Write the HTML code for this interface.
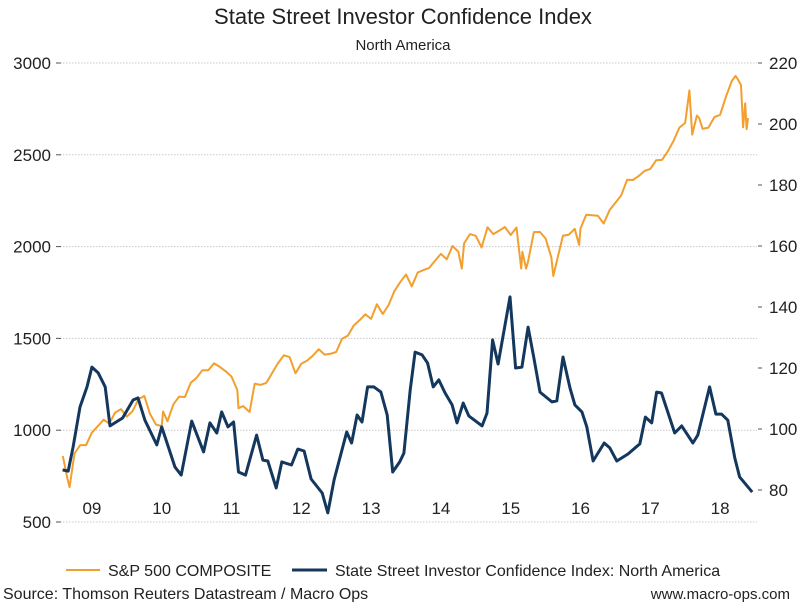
<!DOCTYPE html>
<html><head><meta charset="utf-8">
<style>
html,body{margin:0;padding:0;background:#fff;}
svg{display:block;font-family:"Liberation Sans",Arial,sans-serif;}
</style></head>
<body>
<svg id="chart" width="807" height="602" viewBox="0 0 807 602">
<text x="403" y="24" text-anchor="middle" font-size="22" fill="#222">State Street Investor Confidence Index</text>
<text x="403" y="50" text-anchor="middle" font-size="15" fill="#222">North America</text>
<g id="grid"></g>
<g id="axes"></g>
<g id="series"></g>
<g>
<line x1="66" y1="570" x2="100" y2="570" stroke="#f29f2f" stroke-width="2"/>
<text x="108" y="576" font-size="16" fill="#222">S&amp;P 500 COMPOSITE</text>
<line x1="292" y1="570" x2="327" y2="570" stroke="#14375e" stroke-width="3"/>
<text x="335" y="576" font-size="16" fill="#222">State Street Investor Confidence Index: North America</text>
</g>
<text x="3" y="599" font-size="16" fill="#222">Source: Thomson Reuters Datastream / Macro Ops</text>
<text x="790" y="599" text-anchor="end" font-size="15" fill="#222">www.macro-ops.com</text>
</svg>
<script>
const xTickLabels = ["09","10","11","12","13","14","15","16","17","18"];
const xTickYears = [2009.5,2010.5,2011.5,2012.5,2013.5,2014.5,2015.5,2016.5,2017.5,2018.5];
const leftTicks = [500,1000,1500,2000,2500,3000];
const rightTicks = [80,100,120,140,160,180,200,220];

const spDates = [2009.083,2009.15,2009.18,2009.25,2009.333,2009.417,2009.5,2009.583,2009.667,2009.75,2009.833,2009.917,2010.0,2010.083,2010.167,2010.25,2010.333,2010.417,2010.5,2010.52,2010.583,2010.667,2010.75,2010.833,2010.917,2011.0,2011.083,2011.167,2011.25,2011.333,2011.417,2011.5,2011.583,2011.6,2011.667,2011.76,2011.833,2011.917,2012.0,2012.083,2012.167,2012.25,2012.333,2012.417,2012.5,2012.583,2012.667,2012.75,2012.833,2012.917,2013.0,2013.083,2013.167,2013.25,2013.333,2013.417,2013.5,2013.583,2013.667,2013.75,2013.833,2013.917,2014.0,2014.083,2014.167,2014.25,2014.333,2014.417,2014.5,2014.583,2014.667,2014.75,2014.8,2014.833,2014.917,2015.0,2015.083,2015.167,2015.25,2015.333,2015.417,2015.5,2015.583,2015.65,2015.667,2015.72,2015.75,2015.833,2015.917,2016.0,2016.083,2016.11,2016.167,2016.25,2016.333,2016.417,2016.48,2016.5,2016.583,2016.667,2016.75,2016.833,2016.917,2017.0,2017.083,2017.167,2017.25,2017.333,2017.417,2017.5,2017.583,2017.667,2017.75,2017.833,2017.917,2018.0,2018.06,2018.1,2018.167,2018.2,2018.25,2018.333,2018.417,2018.5,2018.583,2018.667,2018.72,2018.75,2018.8,2018.83,2018.86,2018.88,2018.9];
const spValues = [860,735,690,873,919,919,987,1021,1057,1036,1096,1115,1074,1104,1169,1187,1089,1031,1022,1102,1049,1141,1183,1181,1258,1286,1327,1326,1364,1345,1321,1292,1219,1120,1131,1099,1253,1247,1258,1312,1366,1408,1398,1310,1362,1379,1407,1441,1412,1416,1426,1498,1515,1569,1598,1631,1606,1686,1633,1682,1757,1806,1848,1783,1859,1872,1884,1924,1960,1931,2003,1972,1880,2018,2068,2059,1995,2105,2068,2086,2107,2063,2104,1880,1972,1880,1920,2079,2080,2044,1940,1840,1932,2060,2065,2097,2010,2099,2174,2171,2168,2126,2199,2239,2279,2364,2363,2384,2412,2423,2470,2472,2519,2575,2648,2674,2850,2610,2714,2700,2641,2648,2705,2718,2816,2902,2930,2914,2880,2650,2780,2640,2700];

const icDates = [2009.08,2009.16,2009.23,2009.33,2009.43,2009.5,2009.59,2009.69,2009.76,2009.94,2010.09,2010.16,2010.26,2010.43,2010.5,2010.69,2010.78,2010.93,2011.1,2011.19,2011.29,2011.36,2011.45,2011.53,2011.6,2011.7,2011.86,2011.95,2012.02,2012.14,2012.22,2012.36,2012.45,2012.54,2012.64,2012.8,2012.88,2012.97,2013.15,2013.22,2013.3,2013.37,2013.45,2013.54,2013.64,2013.73,2013.81,2013.91,2013.97,2014.06,2014.13,2014.23,2014.31,2014.39,2014.47,2014.56,2014.66,2014.73,2014.82,2014.9,2015.09,2015.16,2015.24,2015.32,2015.49,2015.57,2015.66,2015.75,2015.83,2015.92,2016.09,2016.16,2016.25,2016.35,2016.42,2016.52,2016.59,2016.68,2016.84,2016.92,2017.02,2017.18,2017.35,2017.43,2017.52,2017.59,2017.66,2017.85,2017.95,2018.11,2018.18,2018.35,2018.44,2018.52,2018.61,2018.71,2018.78,2018.96];
const icValues = [86.6,86.2,94.1,107.2,113.8,120.3,118.4,113.8,101.0,103.6,109.5,110.2,102.9,94.8,100.7,87.5,84.9,102.6,92.5,102.0,98.7,105.6,100.7,102.3,85.9,84.9,98.0,89.8,89.5,80.7,89.2,88.2,93.4,92.8,83.6,79.0,72.5,83.3,99.0,95.4,104.6,102.3,113.8,113.8,112.1,104.6,85.9,89.2,92.1,112.8,125.2,124.3,121.6,113.8,116.1,111.8,107.9,102.0,108.5,104.3,101.0,105.2,129.2,121.3,143.3,120.0,120.3,133.4,123.6,112.1,108.9,109.2,123.6,113.4,107.9,105.6,100.7,89.5,95.4,93.8,89.5,91.8,95.1,103.9,102.0,112.1,111.8,98.7,101.0,95.4,98.0,113.8,104.9,104.9,102.9,90.5,84.3,79.3];

const NS="http://www.w3.org/2000/svg";
const X0=57, PX_PER_YEAR=69.8, PLOT_L=60, PLOT_R=757;
function xScale(t){return X0+(t-2009)*PX_PER_YEAR;}
function yLeft(v){return 63+(3000-v)*459/2500;}
function yRight(v){return 63+(220-v)*3.05;}
function mk(tag,attrs,parent){const e=document.createElementNS(NS,tag);for(const k in attrs)e.setAttribute(k,attrs[k]);parent.appendChild(e);return e;}

const grid=document.getElementById('grid');
const axes=document.getElementById('axes');
const series=document.getElementById('series');

leftTicks.forEach(v=>{
  const y=yLeft(v);
  const g=mk('line',{x1:PLOT_L,x2:PLOT_R,y1:y,y2:y,stroke:'#c8c8c8','stroke-width':1,'stroke-dasharray':'1.5 1.5'},grid);
  
  
  const t=mk('line',{x1:56,x2:61,y1:y,y2:y,stroke:'#555','stroke-width':1},axes);
  
  
  const l=mk('text',{x:51,y:y+6,'text-anchor':'end','font-size':17,fill:'#222'},axes);
  l.textContent=v;
  
  
});
rightTicks.forEach(v=>{
  const y=yRight(v);
  const t=mk('line',{x1:758,x2:762,y1:y,y2:y,stroke:'#555','stroke-width':1},axes);
  
  
  const l=mk('text',{x:769,y:y+6,'font-size':17,fill:'#222'},axes);
  l.textContent=v;
  
  
});
xTickLabels.forEach((lab,i)=>{
  const l=mk('text',{x:xScale(xTickYears[i]),y:514,'text-anchor':'middle','font-size':17,fill:'#222'},axes);
  l.textContent=lab;
  
  
});

const spPts=spDates.map((t,i)=>xScale(t).toFixed(1)+','+yLeft(spValues[i]).toFixed(1)).join(' ');
const sp=mk('polyline',{points:spPts,fill:'none',stroke:'#f29f2f','stroke-width':2,'stroke-linejoin':'round'},series);



const icPts=icDates.map((t,i)=>xScale(t).toFixed(1)+','+yRight(icValues[i]).toFixed(1)).join(' ');
const ic=mk('polyline',{points:icPts,fill:'none',stroke:'#14375e','stroke-width':3,'stroke-linejoin':'round'},series);


</script>
</body></html>
